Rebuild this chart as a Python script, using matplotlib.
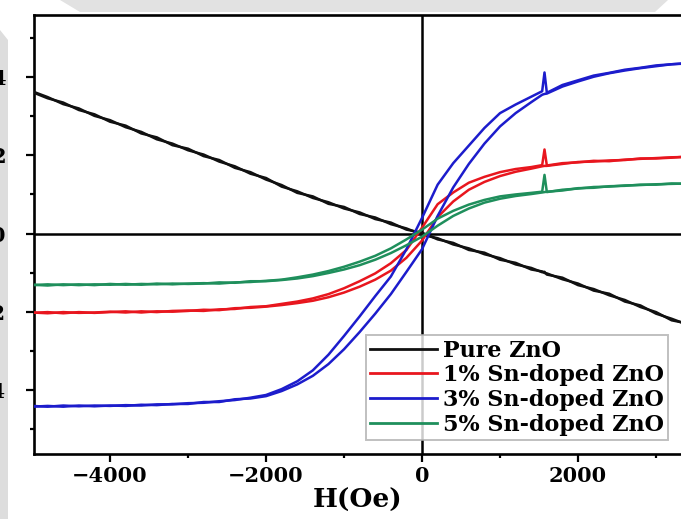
import matplotlib
matplotlib.use("Agg")
import matplotlib.pyplot as plt
from matplotlib.patches import Polygon

# ---------------- data ----------------
H = [-5000, -4800, -4600, -4400, -4200, -4000, -3800, -3600, -3400, -3200,
     -3000, -2800, -2600, -2400, -2200, -2000, -1800, -1600, -1400, -1200,
     -1000, -800, -600, -400, -200, 0, 200, 400, 600, 800,
     1000, 1200, 1400, 1540, 1570, 1600, 1800, 2000, 2200, 2400,
     2600, 2800, 3000, 3200, 3400]

pure_down = [3.64, 3.49, 3.31, 3.20, 3.01, 2.90, 2.72, 2.60, 2.41, 2.30,
             2.13, 2.02, 1.84, 1.72, 1.53, 1.42, 1.20, 1.08, 0.91, 0.80,
             0.64, 0.54, 0.37, 0.28, 0.10, 0.02, -0.15, -0.24, -0.42, -0.49,
             -0.67, -0.75, -0.92, -0.97, -1.01, -1.02, -1.17, -1.28, -1.46, -1.54,
             -1.74, -1.84, -2.05, -2.18, -2.33]
pure_up = [3.62, 3.46, 3.35, 3.16, 3.05, 2.86, 2.76, 2.56, 2.46, 2.26,
           2.17, 1.98, 1.88, 1.68, 1.57, 1.38, 1.24, 1.04, 0.95, 0.76,
           0.68, 0.50, 0.41, 0.24, 0.13, -0.03, -0.12, -0.28, -0.38, -0.53,
           -0.63, -0.79, -0.88, -0.99, -0.98, -1.05, -1.13, -1.32, -1.42, -1.58,
           -1.70, -1.88, -2.01, -2.22, -2.30]

sn1_down = [-2.02, -2.04, -2.01, -2.03, -2.02, -2.00, -2.02, -1.99, -2.01, -1.98,
            -1.97, -1.98, -1.94, -1.93, -1.88, -1.86, -1.80, -1.74, -1.66, -1.55,
            -1.40, -1.22, -1.02, -0.76, -0.42, 0.15, 0.75, 1.05, 1.30, 1.45,
            1.57, 1.65, 1.70, 1.75, 2.15, 1.74, 1.80, 1.82, 1.86, 1.85,
            1.89, 1.91, 1.93, 1.95, 1.96]
sn1_up = [-2.03, -2.01, -2.04, -2.01, -2.03, -2.01, -1.99, -2.02, -1.99, -2.00,
          -1.98, -1.95, -1.96, -1.91, -1.90, -1.87, -1.83, -1.78, -1.72, -1.63,
          -1.51, -1.36, -1.18, -0.95, -0.62, -0.18, 0.42, 0.82, 1.12, 1.32,
          1.47, 1.58, 1.66, 1.72, 1.73, 1.73, 1.78, 1.83, 1.84, 1.87,
          1.88, 1.92, 1.92, 1.94, 1.97]

sn3_down = [-4.41, -4.43, -4.40, -4.42, -4.40, -4.41, -4.39, -4.40, -4.37, -4.37,
            -4.34, -4.33, -4.29, -4.26, -4.20, -4.13, -3.98, -3.78, -3.50, -3.10,
            -2.62, -2.12, -1.60, -1.10, -0.40, 0.40, 1.25, 1.80, 2.25, 2.70,
            3.08, 3.30, 3.50, 3.64, 4.12, 3.60, 3.80, 3.92, 4.04, 4.11,
            4.19, 4.24, 4.30, 4.33, 4.36]
sn3_up = [-4.43, -4.41, -4.43, -4.40, -4.42, -4.40, -4.41, -4.38, -4.39, -4.36,
          -4.36, -4.31, -4.31, -4.24, -4.22, -4.16, -4.03, -3.86, -3.64, -3.34,
          -2.96, -2.52, -2.05, -1.55, -0.98, -0.40, 0.45, 1.18, 1.78, 2.30,
          2.74, 3.08, 3.36, 3.55, 3.57, 3.58, 3.76, 3.89, 4.01, 4.10,
          4.17, 4.23, 4.28, 4.33, 4.35]

sn5_down = [-1.31, -1.33, -1.30, -1.32, -1.30, -1.31, -1.29, -1.31, -1.28, -1.30,
            -1.28, -1.27, -1.28, -1.25, -1.24, -1.21, -1.18, -1.12, -1.05, -0.96,
            -0.85, -0.72, -0.57, -0.38, -0.15, 0.10, 0.38, 0.58, 0.74, 0.86,
            0.95, 1.00, 1.04, 1.07, 1.50, 1.06, 1.12, 1.15, 1.19, 1.20,
            1.23, 1.24, 1.26, 1.27, 1.28]
sn5_up = [-1.32, -1.30, -1.32, -1.30, -1.32, -1.29, -1.31, -1.29, -1.30, -1.28,
          -1.29, -1.28, -1.25, -1.26, -1.22, -1.22, -1.19, -1.15, -1.09, -1.01,
          -0.92, -0.81, -0.67, -0.50, -0.30, -0.08, 0.20, 0.45, 0.64, 0.79,
          0.89, 0.96, 1.01, 1.05, 1.06, 1.07, 1.10, 1.16, 1.17, 1.21,
          1.22, 1.25, 1.25, 1.28, 1.27]

labels = ["Pure ZnO", "1% Sn-doped ZnO", "3% Sn-doped ZnO", "5% Sn-doped ZnO"]
colors = ["#111111", "#e8161e", "#1c1ccc", "#1f8f5c"]
series = [(pure_down, pure_up), (sn1_down, sn1_up), (sn3_down, sn3_up), (sn5_down, sn5_up)]

xticks = [-4000, -2000, 0, 2000]
xminor = [-3000, -1000, 1000, 3000]
yticks = [-4, -2, 0, 2, 4]
yminor = [-5, -3, -1, 1, 3, 5]

# ---------------- figure ----------------
plt.rcParams['font.family'] = ['DejaVu Serif']
plt.rcParams['font.weight'] = 'bold'

W, Hpx = 681, 519
fig = plt.figure(figsize=(W / 100, Hpx / 100), dpi=100)
fig.patch.set_facecolor("white")

def px(x, y):
    return (x / W, 1 - y / Hpx)

# light grey watermark shapes in the background (drawn beneath the axes)
fig.patches.append(Polygon([px(0, 30), px(8, 40), px(8, 519), px(0, 519)],
                           closed=True, transform=fig.transFigure,
                           facecolor="#dddddd", edgecolor="none", zorder=-5))
fig.patches.append(Polygon([px(60, 0), px(80, 12), px(655, 12), px(668, 0)],
                           closed=True, transform=fig.transFigure,
                           facecolor="#e2e2e2", edgecolor="none", zorder=-5))

ax = fig.add_axes([34 / W, (Hpx - 454) / Hpx, (W - 34) / W, (454 - 15) / Hpx])
ax.set_facecolor("white")

ax.axhline(0, color="black", lw=1.8, zorder=1.5)
ax.axvline(0, color="black", lw=1.8, zorder=1.5)

for (down, up), c, lab in zip(series, colors, labels):
    ax.plot(H, down, color=c, lw=1.8, label=lab, zorder=3)
    ax.plot(H, up, color=c, lw=1.8, zorder=3)

ax.set_xlim(-4975, 3320)
ax.set_ylim(-5.64, 5.59)

ax.set_xticks(xticks)
ax.set_xticks(xminor, minor=True)
ax.set_yticks(yticks)
ax.set_yticks(yminor, minor=True)
ax.set_xticklabels([f"{v:d}".replace("-", "\u2212") for v in xticks])
ax.set_yticklabels([f"{v:d}".replace("-", "\u2212") for v in yticks])

ax.tick_params(axis="both", which="major", direction="out", length=5.8, width=1.6,
               labelsize=15)
ax.tick_params(axis="both", which="minor", direction="out", length=3.2, width=1.6)
ax.tick_params(axis="x", which="major", pad=3)
ax.tick_params(axis="y", which="major", pad=14.5)

for s in ["left", "bottom", "top"]:
    ax.spines[s].set_linewidth(1.9)
ax.spines["right"].set_visible(False)

ax.set_xlabel("H(Oe)", fontsize=19, fontweight="bold", labelpad=1)

handles = [plt.Line2D([], [], color=c, lw=2) for c in colors]
leg = ax.legend(handles, labels, loc="lower right",
                bbox_to_anchor=(668 / W, 1 - 440 / Hpx), bbox_transform=fig.transFigure,
                borderaxespad=0, frameon=True, fancybox=False,
                prop={"family": "DejaVu Serif", "weight": "bold", "size": 16},
                handlelength=3.0, handletextpad=0.25, labelspacing=0.12, borderpad=0.2)
leg.get_frame().set_edgecolor("#b0b0b0")
leg.get_frame().set_linewidth(1.4)

fig.savefig("out.png", dpi=100)
